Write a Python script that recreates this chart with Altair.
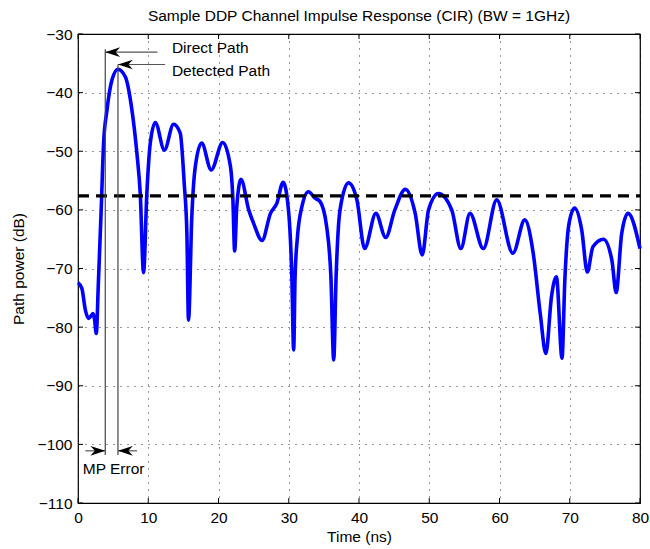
import altair as alt
import pandas as pd

# ---------------- data ----------------
time_ns = [0.0, 0.55, 1.05, 1.5, 1.85, 2.15, 2.35, 2.6, 2.9, 3.3, 3.64, 4.12, 4.84, 5.69,
           6.73, 7.68, 8.39, 8.86, 9.33, 9.8, 10.28, 11.0, 12.3, 13.6, 14.55, 15.12, 15.5,
           15.73, 16.2, 16.7, 17.6, 18.96, 20.6, 21.7, 22.05, 22.3, 22.6, 23.2, 24.3, 25.0,
           26.2, 27.4, 28.3, 29.2, 29.96, 30.44, 30.7, 30.9, 31.24, 31.86, 32.8, 33.75, 34.47,
           35.4, 36.0, 36.4, 36.74, 37.3, 38.5, 39.7, 40.8, 42.4, 43.8, 45.1, 46.6, 48.0, 49.0,
           49.9, 51.3, 53.2, 54.5, 55.8, 57.7, 59.6, 61.9, 63.6, 64.8, 65.8, 66.6, 67.4, 68.1,
           68.9, 69.3, 69.9, 70.7, 71.7, 72.5, 73.3, 74.8, 76.0, 76.6, 77.4, 78.3, 80.0]
power_db = [-72.4, -73.4, -77.1, -78.5, -78.1, -77.7, -78.6, -81.1, -72.5, -60.0, -48.7, -43.0,
            -37.8, -36.0, -37.3, -43.0, -50.4, -57.2, -70.7, -57.2, -48.7, -45.1, -49.8, -45.4,
            -46.9, -55.5, -64.0, -78.8, -61.2, -52.6, -48.6, -53.2, -48.5, -52.6, -58.3, -67.0,
            -59.5, -54.8, -60.0, -62.3, -65.2, -60.6, -58.9, -55.3, -60.0, -71.4, -83.9, -71.4,
            -64.6, -59.5, -56.9, -58.0, -58.6, -62.9, -71.4, -85.6, -71.4, -60.0, -55.4, -58.3,
            -66.6, -60.6, -64.7, -60.0, -56.5, -60.6, -67.7, -60.0, -57.2, -60.0, -66.6, -60.6,
            -66.6, -58.3, -67.4, -61.7, -67.4, -77.7, -84.5, -74.8, -71.4, -85.3, -72.0, -62.3,
            -59.7, -63.4, -70.6, -66.3, -65.0, -68.6, -74.1, -64.0, -60.6, -66.6]

threshold_db = -57.6
x_ticks = [0, 10, 20, 30, 40, 50, 60, 70, 80]
y_ticks = [-110, -100, -90, -80, -70, -60, -50, -40, -30]

# annotation geometry (data units)
direct_ns = 3.88
detected_ns = 5.69
vline_x = [direct_ns, detected_ns]
vline_top = [-32.6, -35.2]
vline_bottom = [-101.8, -101.8]

shaft_x = [direct_ns, detected_ns, 1.05, detected_ns]
shaft_x2 = [11.3, 12.4, direct_ns, 8.4]
shaft_y = [-33.1, -35.2, -101.1, -101.1]

head_left_x = [direct_ns, detected_ns, detected_ns]
head_left_y = [-33.1, -35.2, -101.1]
head_right_x = [direct_ns]
head_right_y = [-101.1]

label_text = ["Direct Path", "Detected Path"]
label_x = [13.37, 13.37]
label_y = [-32.45, -36.3]
mp_text = ["MP Error"]
mp_x = [5.07]
mp_y = [-104.2]

# ---------------- chart ----------------
W, H = 562, 469
FONT = "Liberation Sans"
FS = 15.5

xs = alt.Scale(domain=[0, 80], nice=False, zero=False)
ys = alt.Scale(domain=[-110, -30], nice=False, zero=False)
axis_style = dict(
    domain=False, ticks=False, grid=True, labelFlush=False, labelOverlap=False,
    gridColor="black", gridDash=[1, 6], gridWidth=1, gridOpacity=0.8,
    labelFont=FONT, labelFontSize=FS, labelColor="black",
    titleFont=FONT, titleFontSize=FS, titleFontWeight="normal", titleColor="black",
)
x_axis = alt.Axis(values=x_ticks, title="Time (ns)", labelPadding=7, titlePadding=4, **axis_style)
y_axis = alt.Axis(values=y_ticks, title="Path power (dB)", labelPadding=6, titlePadding=11, **axis_style)


def X(field):
    return alt.X(field, scale=xs, axis=x_axis, title="Time (ns)")


def Y(field):
    return alt.Y(field, scale=ys, axis=y_axis, title="Path power (dB)")


curve_df = pd.DataFrame({"t": time_ns, "p": power_db})
curve = alt.Chart(curve_df).mark_line(
    color="#0000FF", strokeWidth=3.6, interpolate="monotone"
).encode(x=X("t:Q"), y=Y("p:Q"), order="t:Q")

thr_df = pd.DataFrame({"x": [0], "x2": [80], "y": [threshold_db]})
thr = alt.Chart(thr_df).mark_rule(color="black", strokeWidth=3.2, strokeDash=[11, 7]).encode(
    x=X("x:Q"), x2="x2:Q", y=Y("y:Q")
)

vl_df = pd.DataFrame({"x": vline_x, "y": vline_top, "y2": vline_bottom})
vlines = alt.Chart(vl_df).mark_rule(color="#444444", strokeWidth=1.2).encode(
    x=X("x:Q"), y=Y("y:Q"), y2="y2:Q"
)

sh_df = pd.DataFrame({"x": shaft_x, "x2": shaft_x2, "y": shaft_y})
shafts = alt.Chart(sh_df).mark_rule(color="#555555", strokeWidth=1.2).encode(
    x=X("x:Q"), x2="x2:Q", y=Y("y:Q")
)

HEAD = 220
hl_df = pd.DataFrame({"x": head_left_x, "y": head_left_y})
heads_l = alt.Chart(hl_df).mark_point(
    shape="M0,0 L2,-0.65 L1.4,0 L2,0.65 Z", size=HEAD, filled=True,
    color="black", opacity=1, strokeWidth=0
).encode(x=X("x:Q"), y=Y("y:Q"))

hr_df = pd.DataFrame({"x": head_right_x, "y": head_right_y})
heads_r = alt.Chart(hr_df).mark_point(
    shape="M0,0 L-2,-0.65 L-1.4,0 L-2,0.65 Z", size=HEAD, filled=True,
    color="black", opacity=1, strokeWidth=0
).encode(x=X("x:Q"), y=Y("y:Q"))

lab_df = pd.DataFrame({"x": label_x, "y": label_y, "s": label_text})
labels = alt.Chart(lab_df).mark_text(
    align="left", baseline="middle", font=FONT, fontSize=FS, color="black"
).encode(x=X("x:Q"), y=Y("y:Q"), text="s:N")

mp_df = pd.DataFrame({"x": mp_x, "y": mp_y, "s": mp_text})
mp_label = alt.Chart(mp_df).mark_text(
    align="center", baseline="middle", font=FONT, fontSize=FS, color="black"
).encode(x=X("x:Q"), y=Y("y:Q"), text="s:N")

# inward tick marks (MATLAB style) on all four sides
xt_df = pd.DataFrame({"t": x_ticks})
yt_df = pd.DataFrame({"t": y_ticks})
tick_style = dict(color="black", strokeWidth=1)
ticks_b = alt.Chart(xt_df).mark_rule(**tick_style).encode(
    x=X("t:Q"), y=alt.value(H), y2=alt.value(H - 5))
ticks_t = alt.Chart(xt_df).mark_rule(**tick_style).encode(
    x=X("t:Q"), y=alt.value(0), y2=alt.value(5))
ticks_l = alt.Chart(yt_df).mark_rule(**tick_style).encode(
    y=Y("t:Q"), x=alt.value(0), x2=alt.value(5))
ticks_r = alt.Chart(yt_df).mark_rule(**tick_style).encode(
    y=Y("t:Q"), x=alt.value(W), x2=alt.value(W - 5))

chart = alt.layer(
    curve, thr, vlines, shafts, heads_l, heads_r, labels, mp_label,
    ticks_b, ticks_t, ticks_l, ticks_r
).properties(
    width=W, height=H,
    autosize="none",
    background="white",
    padding={"left": 78, "top": 34, "right": 10, "bottom": 46},
    title=alt.TitleParams(
        "Sample DDP Channel Impulse Response (CIR) (BW = 1GHz)",
        font=FONT, fontSize=FS, fontWeight="normal", color="black",
        anchor="middle", frame="group", offset=3
    ),
).configure_view(
    stroke="black", strokeWidth=1.2
).configure_axis(**axis_style)

chart.save("out.html", embed_options={"renderer": "svg", "actions": False})
